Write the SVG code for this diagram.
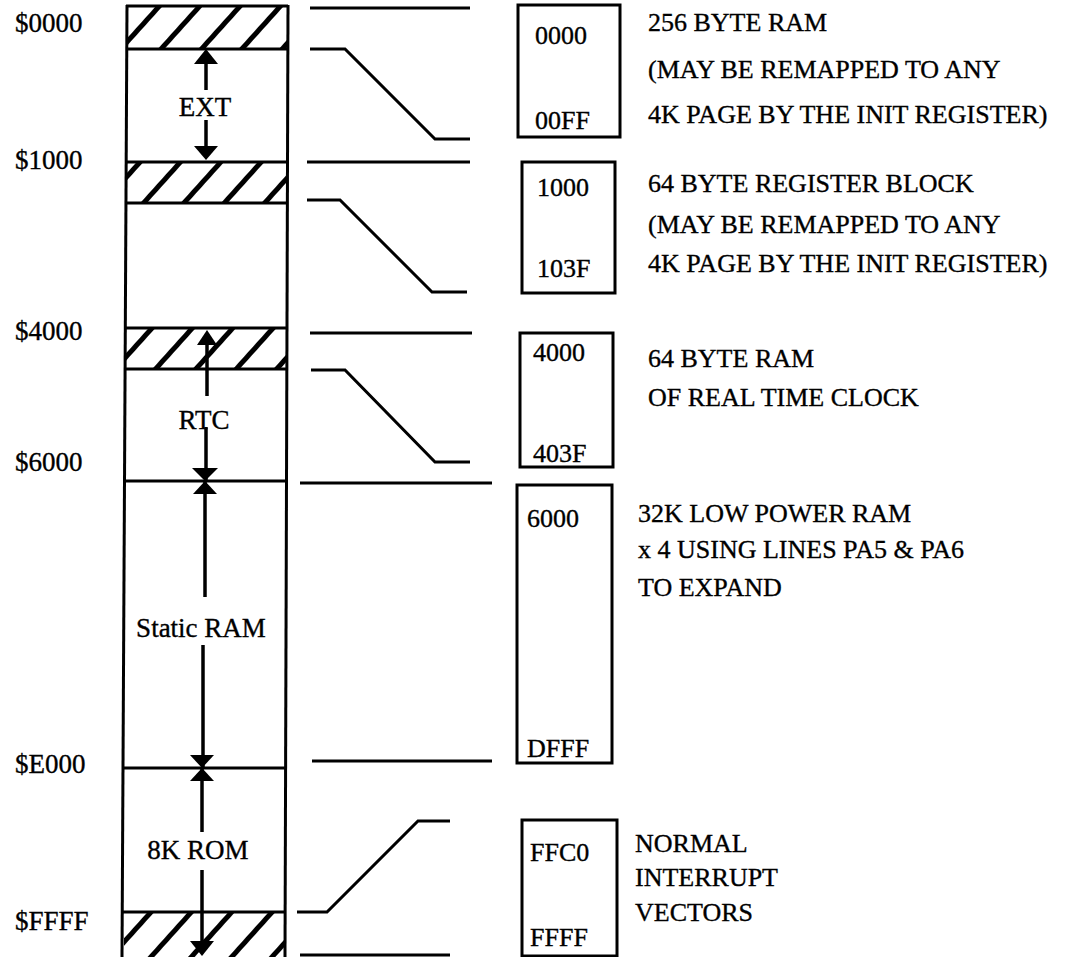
<svg xmlns="http://www.w3.org/2000/svg" width="1067" height="957" viewBox="0 0 1067 957">
<style>
.t{font-family:"Liberation Serif","Times New Roman",serif;fill:#000;stroke:#000;stroke-width:0.35}
.lab{font-size:27px}
.box{font-size:26px}
.desc{font-size:26px}
.ln{stroke:#000;stroke-width:3;fill:none;stroke-linecap:butt;stroke-linejoin:miter}
.bx{stroke:#000;stroke-width:3;fill:#fff}
.ar{stroke:#000;stroke-width:3.5;fill:none}
</style>
<defs>
<pattern id="hatch" patternUnits="userSpaceOnUse" width="30" height="30" patternTransform="rotate(42)">
<rect x="0" y="0" width="5" height="30" fill="#000"/>
</pattern>
</defs>
<rect width="1067" height="957" fill="#fff"/>

<g id="address-labels">
<text class="t lab" x="15" y="32">$0000</text>
<text class="t lab" x="15" y="169">$1000</text>
<text class="t lab" x="15" y="340">$4000</text>
<text class="t lab" x="15" y="471">$6000</text>
<text class="t lab" x="15" y="773">$E000</text>
<text class="t lab" x="15" y="930">$FFFF</text>
</g>

<g id="memory-column">
<rect x="126" y="6" width="162" height="43" fill="url(#hatch)"/>
<rect x="126" y="162" width="162" height="41" fill="url(#hatch)"/>
<rect x="126" y="328" width="162" height="41" fill="url(#hatch)"/>
<rect x="124" y="912" width="162" height="45" fill="url(#hatch)"/>
<line class="ln" x1="126" y1="6" x2="288" y2="6"/>
<line class="ln" x1="126" y1="49" x2="288" y2="49"/>
<line class="ln" x1="126" y1="162" x2="288" y2="162"/>
<line class="ln" x1="126" y1="203" x2="288" y2="203"/>
<line class="ln" x1="126" y1="328" x2="288" y2="328"/>
<line class="ln" x1="126" y1="369" x2="288" y2="369"/>
<line class="ln" x1="125" y1="481" x2="287" y2="481"/>
<line class="ln" x1="124" y1="768" x2="286" y2="768"/>
<line class="ln" x1="123" y1="912" x2="285" y2="912"/>
<line class="ln" x1="127" y1="5" x2="122" y2="957"/>
<line class="ln" x1="288" y1="5" x2="285" y2="957"/>
</g>

<g id="region-ext">
<text class="t lab" x="205" y="116" text-anchor="middle">EXT</text>
</g>
<g id="region-rtc">
<text class="t lab" x="204" y="429" text-anchor="middle">RTC</text>
</g>
<g id="region-static-ram">
<text class="t lab" x="201" y="637" text-anchor="middle">Static RAM</text>
</g>
<g id="region-8k-rom">
<text class="t lab" x="198" y="859" text-anchor="middle">8K ROM</text>
</g>

<g id="connectors">
<line class="ar" x1="206" y1="90" x2="206" y2="60"/>
<path d="M206,49 L218,64 L194,64 Z" fill="#000"/>
<line class="ar" x1="206" y1="120" x2="206" y2="150"/>
<path d="M206,160 L218,146 L194,146 Z" fill="#000"/>
<line class="ar" x1="207" y1="396" x2="207" y2="340"/>
<path d="M207,330 L217,345 L197,345 Z" fill="#000"/>
<line class="ar" x1="206" y1="427" x2="206" y2="481"/>
<path d="M205,481 L218,468 L192,468 Z" fill="#000"/>
<path d="M205,481 L217,494 L193,494 Z" fill="#000"/>
<line class="ar" x1="205" y1="481" x2="205" y2="597"/>
<line class="ar" x1="203" y1="645" x2="203" y2="768"/>
<path d="M202,768 L214,755 L190,755 Z" fill="#000"/>
<path d="M202,768 L214,781 L190,781 Z" fill="#000"/>
<line class="ar" x1="202" y1="768" x2="202" y2="832"/>
<line class="ar" x1="202" y1="870" x2="202" y2="945"/>
<path d="M202,956 L214,941 L190,941 Z" fill="#000"/>
<line class="ln" x1="310" y1="8" x2="470" y2="8"/>
<polyline class="ln" points="310,49 345,49 435,139 470,139"/>
<line class="ln" x1="307" y1="162" x2="470" y2="162"/>
<polyline class="ln" points="307,200 340,200 432,292 467,292"/>
<line class="ln" x1="310" y1="333" x2="472" y2="333"/>
<polyline class="ln" points="311,370 345,370 435,462 470,462"/>
<line class="ln" x1="300" y1="483" x2="492" y2="483"/>
<line class="ln" x1="312" y1="761" x2="492" y2="761"/>
<polyline class="ln" points="297,912 327,912 418,821 450,821"/>
<line class="ln" x1="300" y1="955" x2="450" y2="955"/>
</g>

<g id="box-0000">
<rect class="bx" x="518" y="5" width="102" height="132"/>
<text class="t box" x="535" y="44">0000</text>
<text class="t box" x="535" y="129">00FF</text>
</g>
<g id="box-1000">
<rect class="bx" x="522" y="162" width="93" height="131"/>
<text class="t box" x="537" y="196">1000</text>
<text class="t box" x="537" y="277">103F</text>
</g>
<g id="box-4000">
<rect class="bx" x="520" y="333" width="93" height="134"/>
<text class="t box" x="533" y="361">4000</text>
<text class="t box" x="533" y="462">403F</text>
</g>
<g id="box-6000">
<rect class="bx" x="517" y="485" width="95" height="278"/>
<text class="t box" x="527" y="527">6000</text>
<text class="t box" x="527" y="757">DFFF</text>
</g>
<g id="box-ffc0">
<rect class="bx" x="522" y="820" width="95" height="136"/>
<text class="t box" x="530" y="861">FFC0</text>
<text class="t box" x="530" y="946">FFFF</text>
</g>

<g id="desc-256">
<text class="t desc" x="648" y="31">256 BYTE RAM</text>
<text class="t desc" x="648" y="78">(MAY BE REMAPPED TO ANY</text>
<text class="t desc" x="648" y="123">4K PAGE BY THE INIT REGISTER)</text>
</g>
<g id="desc-64reg">
<text class="t desc" x="648" y="192">64 BYTE REGISTER BLOCK</text>
<text class="t desc" x="648" y="233">(MAY BE REMAPPED TO ANY</text>
<text class="t desc" x="648" y="272">4K PAGE BY THE INIT REGISTER)</text>
</g>
<g id="desc-rtc">
<text class="t desc" x="648" y="367">64 BYTE RAM</text>
<text class="t desc" x="648" y="406">OF REAL TIME CLOCK</text>
</g>
<g id="desc-32k">
<text class="t desc" x="638" y="522">32K LOW POWER RAM</text>
<text class="t desc" x="638" y="558">x 4 USING LINES PA5 &amp; PA6</text>
<text class="t desc" x="638" y="596">TO EXPAND</text>
</g>
<g id="desc-vectors">
<text class="t desc" x="635" y="852">NORMAL</text>
<text class="t desc" x="635" y="886">INTERRUPT</text>
<text class="t desc" x="635" y="921">VECTORS</text>
</g>
</svg>
